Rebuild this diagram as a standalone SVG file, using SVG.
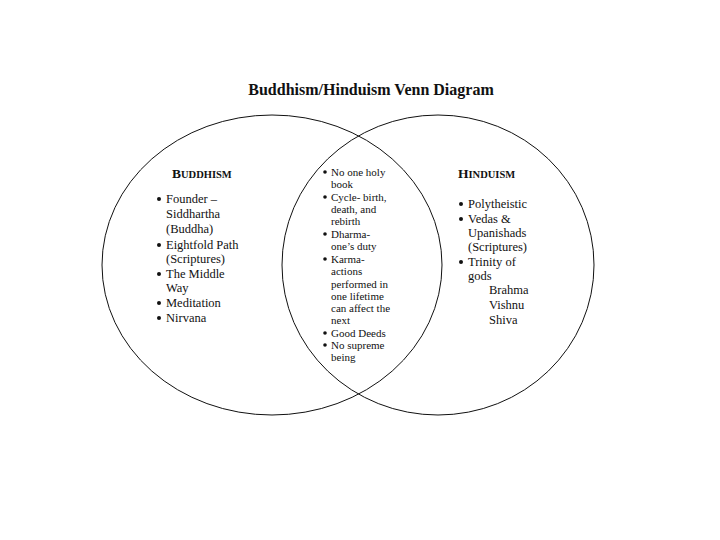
<svg xmlns="http://www.w3.org/2000/svg" width="720" height="540" viewBox="0 0 720 540">
<style>
  text { font-family: "Liberation Serif", "Times New Roman", serif; fill: #111; }
  .title { font-size: 16px; font-weight: bold; }
  .head { font-size: 13.5px; font-weight: bold; }
  .head .sc { font-size: 10.5px; }
  .side { font-size: 12.5px; }
  .mid { font-size: 11px; }
  .ring { fill: none; stroke: #111; stroke-width: 1; }
  .dot { fill: #111; }
</style>
<rect width="720" height="540" fill="#fff"/>
<text class="title" x="371" y="95" text-anchor="middle">Buddhism/Hinduism Venn Diagram</text>
<g id="connectors"></g>
<g id="buddhism">
  <ellipse class="ring" cx="272" cy="265" rx="170" ry="150"/>
  <text class="head" x="172" y="178">B<tspan class="sc">UDDHISM</tspan></text>
  <g class="side">
    <circle class="dot" cx="159" cy="199" r="2"/><text x="166" y="203">Founder –</text>
    <text x="166" y="218">Siddhartha</text>
    <text x="166" y="233">(Buddha)</text>
    <circle class="dot" cx="159" cy="245" r="2"/><text x="166" y="249">Eightfold Path</text>
    <text x="166" y="263">(Scriptures)</text>
    <circle class="dot" cx="159" cy="274" r="2"/><text x="166" y="278">The Middle</text>
    <text x="166" y="292">Way</text>
    <circle class="dot" cx="159" cy="303" r="2"/><text x="166" y="307">Meditation</text>
    <circle class="dot" cx="159" cy="318" r="2"/><text x="166" y="322">Nirvana</text>
  </g>
</g>
<g id="hinduism">
  <ellipse class="ring" cx="438" cy="265" rx="156" ry="150"/>
  <text class="head" x="458" y="178">H<tspan class="sc">INDUISM</tspan></text>
  <g class="side">
    <circle class="dot" cx="461" cy="204" r="2"/><text x="468" y="208">Polytheistic</text>
    <circle class="dot" cx="461" cy="219" r="2"/><text x="468" y="223">Vedas &amp;</text>
    <text x="468" y="237">Upanishads</text>
    <text x="468" y="251">(Scriptures)</text>
    <circle class="dot" cx="461" cy="262" r="2"/><text x="468" y="266">Trinity of</text>
    <text x="468" y="280">gods</text>
    <text x="489" y="294">Brahma</text>
    <text x="489" y="309">Vishnu</text>
    <text x="489" y="324">Shiva</text>
  </g>
</g>
<g id="both">
  <g class="mid">
    <circle class="dot" cx="325" cy="172" r="1.8"/><text x="331" y="176">No one holy</text>
    <text x="331" y="188">book</text>
    <circle class="dot" cx="325" cy="197" r="1.8"/><text x="331" y="201">Cycle- birth,</text>
    <text x="331" y="213">death, and</text>
    <text x="331" y="225">rebirth</text>
    <circle class="dot" cx="325" cy="234" r="1.8"/><text x="331" y="238">Dharma-</text>
    <text x="331" y="250">one’s duty</text>
    <circle class="dot" cx="325" cy="259" r="1.8"/><text x="331" y="263">Karma-</text>
    <text x="331" y="275">actions</text>
    <text x="331" y="288">performed in</text>
    <text x="331" y="300">one lifetime</text>
    <text x="331" y="312">can affect the</text>
    <text x="331" y="324">next</text>
    <circle class="dot" cx="325" cy="333" r="1.8"/><text x="331" y="337">Good Deeds</text>
    <circle class="dot" cx="325" cy="345" r="1.8"/><text x="331" y="349">No supreme</text>
    <text x="331" y="361">being</text>
  </g>
</g>
</svg>
